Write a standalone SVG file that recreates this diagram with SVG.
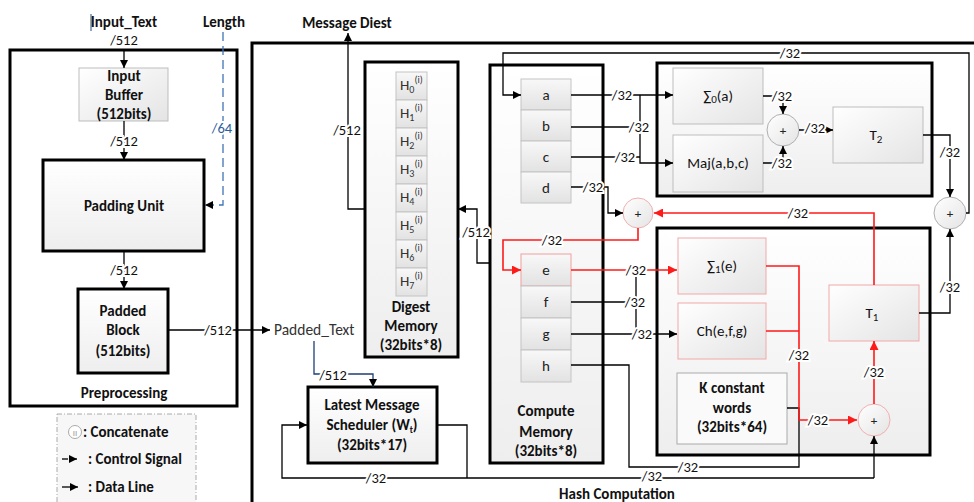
<svg xmlns="http://www.w3.org/2000/svg" width="974" height="502" viewBox="0 0 974 502">
<defs>
<linearGradient id="gBox" x1="0" y1="0" x2="1" y2="1"><stop offset="0" stop-color="#ffffff"/><stop offset="1" stop-color="#e4e4e4"/></linearGradient>
<linearGradient id="gCell" x1="0" y1="0" x2="0" y2="1"><stop offset="0" stop-color="#f8f8f8"/><stop offset="1" stop-color="#e2e2e2"/></linearGradient>
<linearGradient id="gBig" x1="0" y1="0" x2="0" y2="1"><stop offset="0" stop-color="#ffffff"/><stop offset="1" stop-color="#eeeeee"/></linearGradient>
<marker id="ah" viewBox="0 0 10 10" refX="10" refY="5" markerWidth="9" markerHeight="8" markerUnits="userSpaceOnUse" orient="auto"><path d="M0,0 L10,5 L0,10 z" fill="#000"/></marker>
<marker id="ahr" viewBox="0 0 10 10" refX="10" refY="5" markerWidth="10" markerHeight="9" markerUnits="userSpaceOnUse" orient="auto"><path d="M0,0 L10,5 L0,10 z" fill="#ff1a1a"/></marker>
<style>
text{font-family:Carlito,Lato,"Liberation Sans",sans-serif;fill:#111}
.b{font-weight:bold;font-size:15px;text-anchor:middle}
.t{font-size:15px;text-anchor:middle}
.lbl{font-size:14.5px;text-anchor:middle;stroke:#fff;stroke-width:4;paint-order:stroke;dominant-baseline:central}
.c{font-size:15px;text-anchor:middle;fill:#222}
.h{font-size:15px;fill:#333}
.thick{fill:url(#gBig);stroke:#000;stroke-width:3}
.frame{fill:none;stroke:#000;stroke-width:3}
.sub{fill:url(#gBox);stroke:#bdbdbd;stroke-width:1}
.pink{fill:url(#gBox);stroke:#f0a8a8;stroke-width:1}
.cell{fill:url(#gCell);stroke:#c4c4c4;stroke-width:1}
.w{fill:none;stroke:#000;stroke-width:1.3}
.r{fill:none;stroke:#ff1a1a;stroke-width:1.6}
.circ{fill:url(#gBox);stroke:#f0b0b0;stroke-width:1}
.circg{fill:url(#gBox);stroke:#b0b0b0;stroke-width:1}
.pl{font-size:13px;text-anchor:middle;fill:#222}
</style>
</defs>
<rect width="974" height="502" fill="#fff"/>

<!-- Preprocessing -->
<g id="preprocessing">
<rect x="10" y="50" width="227" height="356" class="frame"/>
<text x="124" y="398" class="b">Preprocessing</text>
</g>
<g id="input-text">
<line x1="91" y1="14" x2="91" y2="31" stroke="#1f4e8c" stroke-width="1"/>
<text x="124" y="27" class="b">Input_Text</text>
</g>
<g id="length"><text x="224" y="27" class="b">Length</text></g>
<g id="input-buffer">
<rect x="79" y="68" width="89" height="53" class="sub"/>
<text x="124" y="81" class="b">Input</text>
<text x="124" y="100" class="b">Buffer</text>
<text x="124" y="119" class="b">(512bits)</text>
</g>
<g id="padding-unit">
<rect x="43" y="160" width="161" height="91" class="thick"/>
<text x="124" y="211" class="b">Padding Unit</text>
</g>
<g id="padded-block">
<rect x="78" y="289" width="90" height="84" class="thick"/>
<text x="123" y="316" class="b">Padded</text>
<text x="123" y="335" class="b">Block</text>
<text x="123" y="356" class="b">(512bits)</text>
</g>
<g id="padded-text"><text x="274" y="335" style="font-size:15.5px;fill:#333">Padded_Text</text></g>
<g id="legend">
<rect x="57" y="414" width="139" height="100" fill="#f7f7f7" stroke="#aaa" stroke-width="1" stroke-dasharray="5,2,1,2"/>
<circle cx="75" cy="432" r="6.5" fill="#fff" stroke="#aaa" stroke-width="1"/>
<text x="75" y="435.5" style="font-size:9px;fill:#999;text-anchor:middle">II</text>
<text x="83" y="437" style="font-size:15px;font-weight:bold">: Concatenate</text>
<line x1="62" y1="459" x2="68" y2="459" stroke="#000" stroke-width="1.3"/>
<line x1="70" y1="459" x2="77" y2="459" stroke="#000" stroke-width="1.3" marker-end="url(#ah)"/>
<text x="88" y="464" style="font-size:15px;font-weight:bold">: Control Signal</text>
<line x1="62" y1="487" x2="78" y2="487" stroke="#000" stroke-width="1.3" marker-end="url(#ah)"/>
<text x="88" y="492" style="font-size:15px;font-weight:bold">: Data Line</text>
</g>

<!-- Hash computation -->
<g id="hash-computation">
<rect x="252" y="43" width="740" height="480" class="frame"/>
<text x="617" y="499" class="b">Hash Computation</text>
</g>
<g id="message-digest"><text x="347" y="28" class="b">Message Diest</text></g>
<g id="digest-memory">
<rect x="365" y="62" width="93" height="295" class="thick"/>
<rect x="396" y="72" width="31" height="28" class="cell"/>
<rect x="396" y="100" width="31" height="28" class="cell"/>
<rect x="396" y="128" width="31" height="28" class="cell"/>
<rect x="396" y="156" width="31" height="28" class="cell"/>
<rect x="396" y="184" width="31" height="28" class="cell"/>
<rect x="396" y="212" width="31" height="28" class="cell"/>
<rect x="396" y="240" width="31" height="28" class="cell"/>
<rect x="396" y="268" width="31" height="28" class="cell"/>
<text x="400" y="90" class="h">H<tspan font-size="10" dy="3">0</tspan><tspan font-size="10" dy="-10">(i)</tspan></text>
<text x="400" y="118" class="h">H<tspan font-size="10" dy="3">1</tspan><tspan font-size="10" dy="-10">(i)</tspan></text>
<text x="400" y="146" class="h">H<tspan font-size="10" dy="3">2</tspan><tspan font-size="10" dy="-10">(i)</tspan></text>
<text x="400" y="174" class="h">H<tspan font-size="10" dy="3">3</tspan><tspan font-size="10" dy="-10">(i)</tspan></text>
<text x="400" y="202" class="h">H<tspan font-size="10" dy="3">4</tspan><tspan font-size="10" dy="-10">(i)</tspan></text>
<text x="400" y="230" class="h">H<tspan font-size="10" dy="3">5</tspan><tspan font-size="10" dy="-10">(i)</tspan></text>
<text x="400" y="258" class="h">H<tspan font-size="10" dy="3">6</tspan><tspan font-size="10" dy="-10">(i)</tspan></text>
<text x="400" y="286" class="h">H<tspan font-size="10" dy="3">7</tspan><tspan font-size="10" dy="-10">(i)</tspan></text>
<text x="411" y="312" class="b">Digest</text>
<text x="411" y="331" class="b">Memory</text>
<text x="411" y="350" class="b">(32bits*8)</text>
</g>
<g id="compute-memory">
<rect x="490" y="65" width="113" height="398" class="thick"/>
<rect x="521" y="79" width="50" height="31" class="cell"/>
<rect x="521" y="110" width="50" height="31" class="cell"/>
<rect x="521" y="141" width="50" height="31" class="cell"/>
<rect x="521" y="172" width="50" height="31" class="cell"/>
<rect x="521" y="254" width="50" height="32" class="cell" style="stroke:#f0a0a0"/>
<rect x="521" y="286" width="50" height="32" class="cell"/>
<rect x="521" y="318" width="50" height="32" class="cell"/>
<rect x="521" y="350" width="50" height="32" class="cell"/>
<text x="546" y="100" class="c">a</text>
<text x="546" y="131" class="c">b</text>
<text x="546" y="162" class="c">c</text>
<text x="546" y="193" class="c">d</text>
<text x="546" y="275" class="c">e</text>
<text x="546" y="307" class="c">f</text>
<text x="546" y="339" class="c">g</text>
<text x="546" y="371" class="c">h</text>
<text x="546" y="416" class="b">Compute</text>
<text x="546" y="437" class="b">Memory</text>
<text x="546" y="456" class="b">(32bits*8)</text>
</g>
<g id="scheduler">
<rect x="308" y="387" width="129" height="76" class="thick"/>
<text x="372" y="410" class="b">Latest Message</text>
<text x="372" y="430" class="b">Scheduler (W<tspan font-size="9" dy="3">t</tspan><tspan dy="-3">)</tspan></text>
<text x="372" y="450" class="b">(32bits*17)</text>
</g>
<g id="t2-unit"><rect x="657" y="63" width="275" height="133" class="thick"/></g>
<g id="sigma0">
<rect x="673" y="68" width="90" height="56" class="sub"/>
<text x="718" y="101" class="t">∑<tspan font-size="11" dy="2">0</tspan><tspan dy="-2">(a)</tspan></text>
</g>
<g id="maj">
<rect x="673" y="135" width="90" height="57" class="sub"/>
<text x="718" y="168" class="t">Maj(a,b,c)</text>
</g>
<g id="add-t2"><circle cx="783" cy="130" r="16" class="circg"/><text x="783" y="134.5" class="pl">+</text></g>
<g id="t2">
<rect x="833" y="107" width="90" height="56" class="sub"/>
<text x="876" y="140" class="t">T<tspan font-size="11" dy="3">2</tspan></text>
</g>
<g id="add-a"><circle cx="950" cy="213" r="16" class="circg"/><text x="950" y="217.5" class="pl">+</text></g>
<g id="add-e"><circle cx="638" cy="213" r="15" class="circ"/><text x="638" y="217.5" class="pl">+</text></g>
<g id="t1-unit"><rect x="657" y="228" width="273" height="227" class="thick"/></g>
<g id="sigma1">
<rect x="678" y="238" width="88" height="56" class="pink"/>
<text x="722" y="271" class="t">∑<tspan font-size="11" dy="2">1</tspan><tspan dy="-2">(e)</tspan></text>
</g>
<g id="ch">
<rect x="678" y="303" width="88" height="56" class="pink"/>
<text x="722" y="336" class="t">Ch(e,f,g)</text>
</g>
<g id="k-constant">
<rect x="677" y="373" width="110" height="71" fill="#fafafa" stroke="#aaa" stroke-width="1"/>
<text x="732" y="393" class="b">K constant</text>
<text x="732" y="413" class="b">words</text>
<text x="732" y="432" class="b">(32bits*64)</text>
</g>
<g id="t1">
<rect x="829" y="285" width="90" height="56" class="pink"/>
<text x="872" y="318" class="t">T<tspan font-size="11" dy="3">1</tspan></text>
</g>
<g id="add-t1"><circle cx="874" cy="420" r="16" class="circ"/><text x="874" y="424.5" class="pl">+</text></g>

<!-- Connectors -->
<g id="connectors">
<line x1="124" y1="49" x2="124" y2="68" class="w" marker-end="url(#ah)"/>
<text x="124" y="40" class="lbl">/512</text>
<polyline points="223,32 223,205 205,205" fill="none" stroke="#3f74b5" stroke-width="1.3" stroke-dasharray="9,5" marker-end="url(#ah)"/>
<text x="222" y="128" class="lbl" style="fill:#2a5d9c">/64</text>
<line x1="124" y1="121" x2="124" y2="160" class="w" marker-end="url(#ah)"/>
<text x="124" y="141" class="lbl">/512</text>
<line x1="124" y1="251" x2="124" y2="289" class="w" marker-end="url(#ah)"/>
<text x="124" y="270" class="lbl">/512</text>
<line x1="168" y1="330" x2="270" y2="330" class="w" marker-end="url(#ah)"/>
<text x="218" y="330" class="lbl">/512</text>

<polyline points="365,209 348,209 348,33" class="w" marker-end="url(#ah)"/>
<text x="347" y="130" class="lbl">/512</text>
<polyline points="489,263 477,263 477,209 458,209" class="w" marker-end="url(#ah)"/>
<text x="476" y="232" class="lbl">/512</text>

<polyline points="314,341 314,374 373,374 373,387" class="w" style="stroke:#1f3f75" marker-end="url(#ah)"/>
<text x="333" y="375" class="lbl">/512</text>
<polyline points="437,425 467,425 467,478" class="w"/>
<polyline points="874,478 282,478 282,425 307,425" class="w" marker-end="url(#ah)"/>
<line x1="874" y1="478" x2="874" y2="436" class="w" marker-end="url(#ah)"/>
<text x="376" y="478" class="lbl">/32</text>
<text x="652" y="476" class="lbl">/32</text>

<polyline points="966,213 969,213 969,53 503,53 503,95 521,95" class="w" marker-end="url(#ah)"/>
<text x="790" y="53" class="lbl">/32</text>
<line x1="571" y1="95" x2="673" y2="95" class="w" marker-end="url(#ah)"/>
<polyline points="640,95 640,163 673,163" class="w" marker-end="url(#ah)"/>
<line x1="571" y1="127" x2="640" y2="127" class="w"/>
<line x1="571" y1="157" x2="640" y2="157" class="w"/>
<text x="622" y="95" class="lbl">/32</text>
<text x="639" y="127" class="lbl">/32</text>
<text x="625" y="157" class="lbl">/32</text>
<polyline points="571,187 608,187 608,213 623,213" class="w" marker-end="url(#ah)"/>
<text x="593" y="187" class="lbl">/32</text>

<polyline points="763,96 783,96 783,114" class="w" marker-end="url(#ah)"/>
<text x="782" y="96" class="lbl">/32</text>
<polyline points="763,163 783,163 783,146" class="w" marker-end="url(#ah)"/>
<text x="782" y="163" class="lbl">/32</text>
<line x1="799" y1="130" x2="833" y2="130" class="w" marker-end="url(#ah)"/>
<text x="815" y="128" class="lbl">/32</text>
<polyline points="923,135 950,135 950,197" class="w" marker-end="url(#ah)"/>
<text x="950" y="152" class="lbl">/32</text>
<polyline points="919,313 950,313 950,229" class="w" marker-end="url(#ah)"/>
<text x="950" y="287" class="lbl">/32</text>

<polyline points="874,285 874,213 654,213" class="r" marker-end="url(#ahr)"/>
<text x="798" y="213" class="lbl">/32</text>
<polyline points="638,228 638,240 503,240 503,270 521,270" class="r" marker-end="url(#ahr)"/>
<text x="552" y="240" class="lbl">/32</text>

<line x1="636" y1="270" x2="636" y2="334" class="w"/>
<line x1="571" y1="270" x2="677" y2="270" class="r" marker-end="url(#ahr)"/>
<line x1="571" y1="302" x2="636" y2="302" class="w"/>
<line x1="571" y1="334" x2="677" y2="334" class="w" marker-end="url(#ah)"/>
<text x="636" y="270" class="lbl">/32</text>
<text x="635" y="302" class="lbl">/32</text>
<text x="642" y="334" class="lbl">/32</text>

<polyline points="571,365 629,365 629,467 799,467 799,408 787,408" class="w"/>
<text x="688" y="467" class="lbl">/32</text>
<polyline points="766,266 799,266 799,420 857,420" class="r" marker-end="url(#ahr)"/>
<line x1="766" y1="331" x2="799" y2="331" class="r"/>
<text x="799" y="355" class="lbl">/32</text>
<text x="818" y="420" class="lbl">/32</text>
<line x1="874" y1="404" x2="874" y2="341" class="r" marker-end="url(#ahr)"/>
<text x="874" y="372" class="lbl">/32</text>
</g>
</svg>
